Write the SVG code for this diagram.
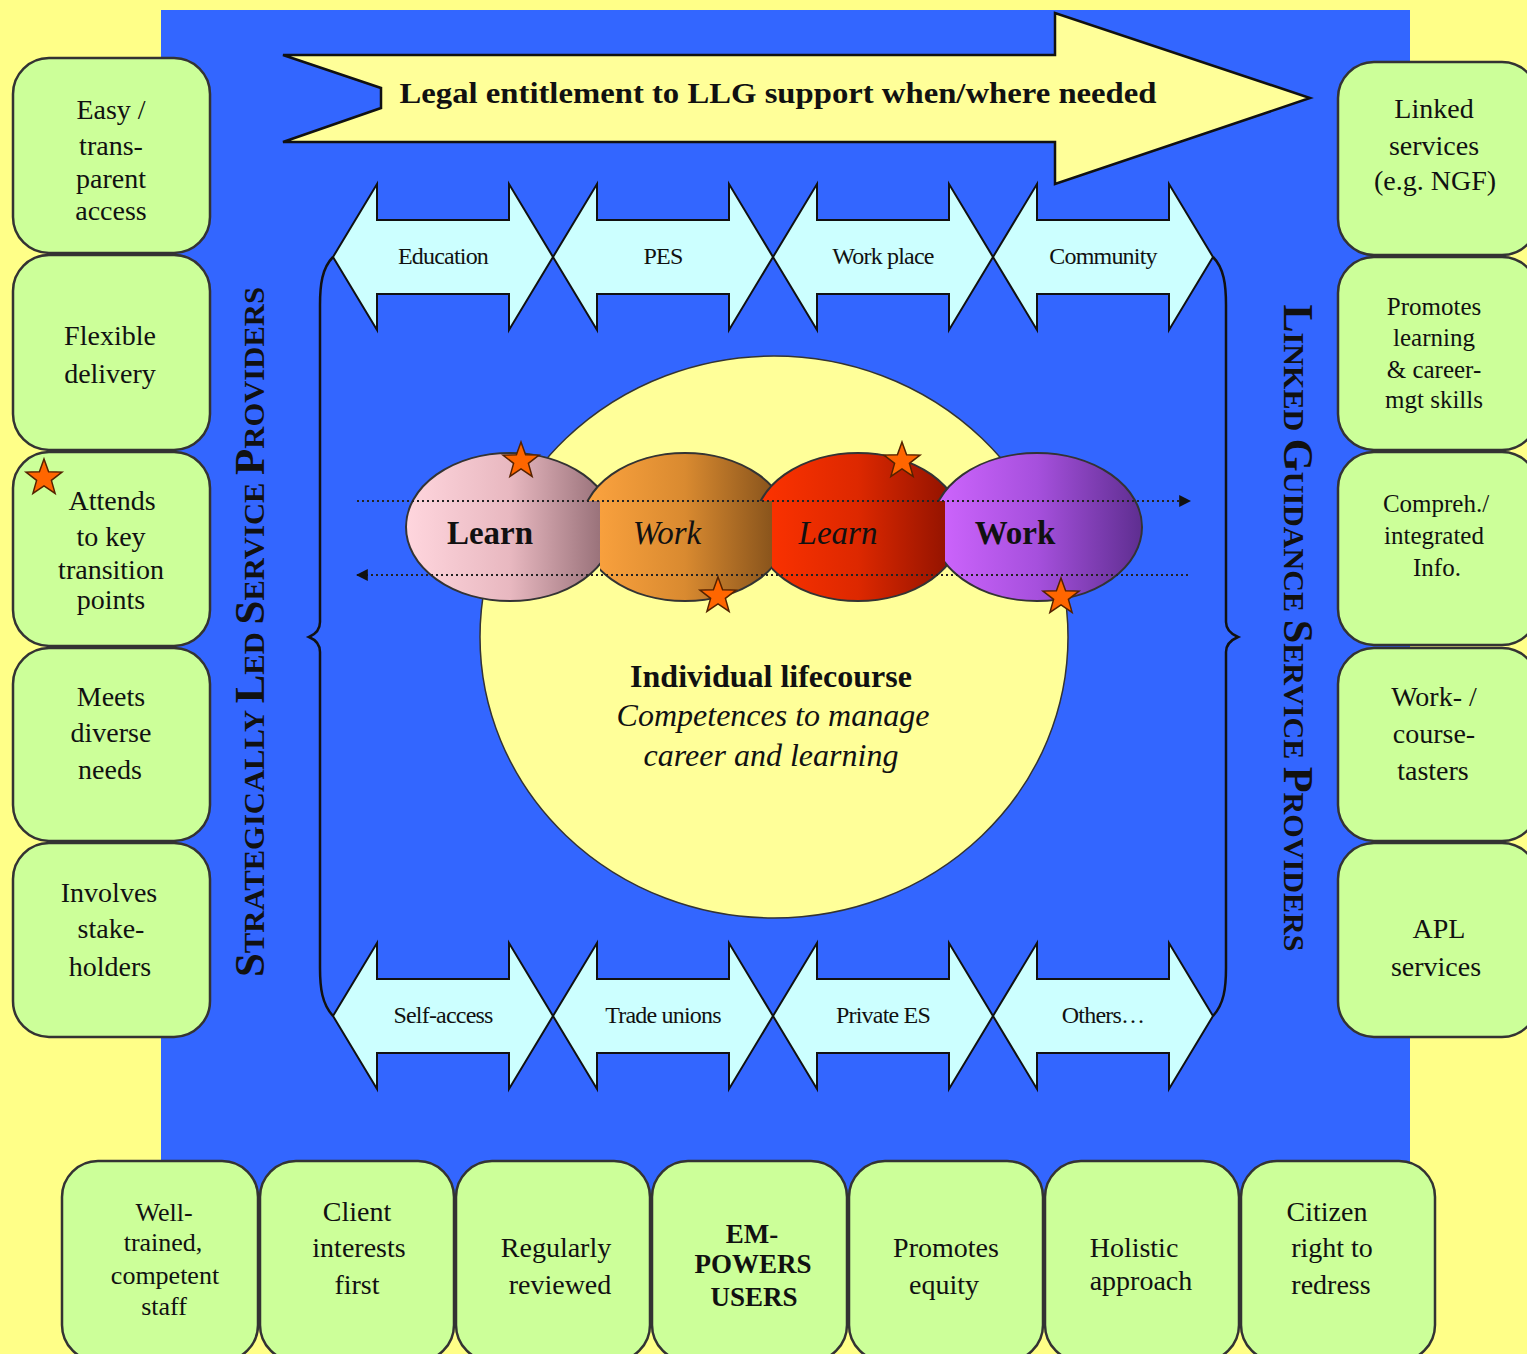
<svg xmlns="http://www.w3.org/2000/svg" xmlns:xlink="http://www.w3.org/1999/xlink" width="1527" height="1354" viewBox="0 0 1527 1354">
<style>
text{font-family:"Liberation Serif","DejaVu Serif","Times New Roman",serif}
.box{fill:#CCFF99;stroke:#333;stroke-width:2.5}
.bt{font-size:28px;fill:#111;text-anchor:middle}
.dbl{fill:#CCFFFF;stroke:#111;stroke-width:2}
.al{font-size:24px;fill:#111;text-anchor:middle;letter-spacing:-0.8px}
.brace{fill:none;stroke:#111;stroke-width:2.5}
.dot{fill:none;stroke:#222;stroke-width:1.8;stroke-dasharray:2 3}
.star{fill:#FF6600;stroke:#552200;stroke-width:1.5}
.ell{stroke:#333;stroke-width:2}
.et{font-size:33px;fill:#111;text-anchor:middle}
.vt{font-weight:bold;fill:#111;text-anchor:middle}
.ct{font-size:32px;fill:#111;text-anchor:middle}
</style>
<defs>
<polygon id="star" points="0,-19 4.6,-6.3 18,-5.9 7.4,2.4 11.1,15.4 0,7.8 -11.1,15.4 -7.4,2.4 -18,-5.9 -4.6,-6.3"/>
<marker id="ah" viewBox="0 0 10 10" refX="9" refY="5" markerWidth="12" markerHeight="12" markerUnits="userSpaceOnUse" orient="auto">
<path d="M0,0 L10,5 L0,10 Z" fill="#111"/>
</marker>
<linearGradient id="gPink" x1="0" y1="0" x2="1" y2="0"><stop offset="0" stop-color="#FFD6DE"/><stop offset="0.5" stop-color="#E8B8C0"/><stop offset="1" stop-color="#8E6870"/></linearGradient>
<linearGradient id="gOrange" x1="0" y1="0" x2="1" y2="0"><stop offset="0" stop-color="#FFA540"/><stop offset="0.5" stop-color="#D98A30"/><stop offset="1" stop-color="#7A4A18"/></linearGradient>
<linearGradient id="gRed" x1="0" y1="0" x2="1" y2="0"><stop offset="0" stop-color="#FF3300"/><stop offset="0.5" stop-color="#DD2800"/><stop offset="1" stop-color="#881000"/></linearGradient>
<linearGradient id="gPurple" x1="0" y1="0" x2="1" y2="0"><stop offset="0" stop-color="#D066FF"/><stop offset="0.5" stop-color="#A650DD"/><stop offset="1" stop-color="#5E2E90"/></linearGradient>
<clipPath id="cO"><path d="M0,0 H1527 V1354 H600 V501 H0 Z"/></clipPath>
<clipPath id="cR"><path d="M0,0 H1527 V1354 H772 V501 H0 Z"/></clipPath>
<clipPath id="cP"><path d="M0,0 H1527 V1354 H945 V501 H0 Z"/></clipPath>
</defs>

<rect x="0" y="0" width="1527" height="1354" fill="#FFFF88"/>
<rect id="frame" x="161" y="10" width="1249" height="1240" fill="#3366FF"/>

<g id="legal-arrow">
<polygon points="283,55 1055,55 1055,13 1310,98 1055,184 1055,142 283,142 381,108 381,88" fill="#FFFF99" stroke="#111" stroke-width="2.5"/>
<text x="778" y="103" font-weight="bold" font-size="30" fill="#111" text-anchor="middle" textLength="757" lengthAdjust="spacingAndGlyphs">Legal entitlement to LLG support when/where needed</text>
</g>

<g id="braces">
<path class="brace" d="M333,257 C322,268 320,285 320,305 L320,622 C320,630 316,634 309,637 C316,640 320,644 320,652 L320,968 C320,988 322,1004 333,1016"/>
<path class="brace" d="M1213,257 C1224,268 1226,285 1226,305 L1226,622 C1226,630 1231,634 1238,637 C1231,640 1226,644 1226,652 L1226,968 C1226,988 1224,1004 1213,1016"/>
</g>

<g id="top-arrows">
<g id="education"><polygon class="dbl" points="333,257 377,184 377,220 509,220 509,184 553,257 509,330 509,294 377,294 377,330"/><text class="al" x="443" y="264">Education</text></g>
<g id="pes"><polygon class="dbl" points="553,257 597,184 597,220 729,220 729,184 773,257 729,330 729,294 597,294 597,330"/><text class="al" x="663" y="264">PES</text></g>
<g id="workplace"><polygon class="dbl" points="773,257 817,184 817,220 949,220 949,184 993,257 949,330 949,294 817,294 817,330"/><text class="al" x="883" y="264">Work place</text></g>
<g id="community"><polygon class="dbl" points="993,257 1037,184 1037,220 1169,220 1169,184 1213,257 1169,330 1169,294 1037,294 1037,330"/><text class="al" x="1103" y="264">Community</text></g>
</g>

<g id="bottom-arrows">
<g id="selfaccess"><polygon class="dbl" points="333,1016 377,943 377,979 509,979 509,943 553,1016 509,1089 509,1053 377,1053 377,1089"/><text class="al" x="443" y="1023">Self-access</text></g>
<g id="tradeunions"><polygon class="dbl" points="553,1016 597,943 597,979 729,979 729,943 773,1016 729,1089 729,1053 597,1053 597,1089"/><text class="al" x="663" y="1023">Trade unions</text></g>
<g id="privatees"><polygon class="dbl" points="773,1016 817,943 817,979 949,979 949,943 993,1016 949,1089 949,1053 817,1053 817,1089"/><text class="al" x="883" y="1023">Private ES</text></g>
<g id="others"><polygon class="dbl" points="993,1016 1037,943 1037,979 1169,979 1169,943 1213,1016 1169,1089 1169,1053 1037,1053 1037,1089"/><text class="al" x="1103" y="1023">Others…</text></g>
</g>

<g id="lifecourse">
<ellipse cx="774" cy="637" rx="294" ry="281" fill="#FFFF99" stroke="#333" stroke-width="1.5"/>
<text class="ct" x="771" y="687" font-weight="bold">Individual lifecourse</text>
<text class="ct" x="773" y="726" font-style="italic">Competences to manage</text>
<text class="ct" x="771" y="766" font-style="italic">career and learning</text>
</g>

<g id="learn1"><ellipse class="ell" cx="510" cy="527" rx="104" ry="74" fill="url(#gPink)"/></g>
<g id="work1" clip-path="url(#cO)"><ellipse class="ell" cx="685" cy="527" rx="104" ry="74" fill="url(#gOrange)"/></g>
<g id="learn2" clip-path="url(#cR)"><ellipse class="ell" cx="858" cy="527" rx="104" ry="74" fill="url(#gRed)"/></g>
<g id="work2" clip-path="url(#cP)"><ellipse class="ell" cx="1037" cy="527" rx="105" ry="74" fill="url(#gPurple)"/></g>

<g id="connectors">
<line class="dot" x1="357" y1="501" x2="1190" y2="501" marker-end="url(#ah)"/>
<line class="dot" x1="1188" y1="575" x2="357" y2="575" marker-end="url(#ah)"/>
</g>

<g id="ellipse-labels">
<text class="et" x="490" y="544" font-weight="bold">Learn</text>
<text class="et" x="667" y="544" font-style="italic">Work</text>
<text class="et" x="838" y="544" font-style="italic">Learn</text>
<text class="et" x="1015" y="544" font-weight="bold">Work</text>
</g>

<g id="stars">
<use href="#star" class="star" x="521" y="461"/>
<use href="#star" class="star" x="718" y="596"/>
<use href="#star" class="star" x="902" y="461"/>
<use href="#star" class="star" x="1061" y="597"/>
</g>

<g id="left-label">
<text class="vt" x="264" y="632" transform="rotate(-90 264 632)" textLength="690" lengthAdjust="spacingAndGlyphs"><tspan font-size="42">S</tspan><tspan font-size="30">TRATEGICALLY </tspan><tspan font-size="42">L</tspan><tspan font-size="30">ED </tspan><tspan font-size="42">S</tspan><tspan font-size="30">ERVICE </tspan><tspan font-size="42">P</tspan><tspan font-size="30">ROVIDERS</tspan></text>
</g>
<g id="right-label">
<text class="vt" x="1284" y="628" transform="rotate(90 1284 628)" textLength="647" lengthAdjust="spacingAndGlyphs"><tspan font-size="42">L</tspan><tspan font-size="30">INKED </tspan><tspan font-size="42">G</tspan><tspan font-size="30">UIDANCE </tspan><tspan font-size="42">S</tspan><tspan font-size="30">ERVICE </tspan><tspan font-size="42">P</tspan><tspan font-size="30">ROVIDERS</tspan></text>
</g>

<g id="left-boxes">
<g id="easy"><rect class="box" x="13" y="58" width="197" height="195" rx="36"/><text class="bt"><tspan x="111" y="119">Easy /</tspan><tspan x="111" y="155">trans-</tspan><tspan x="111" y="188">parent</tspan><tspan x="111" y="220">access</tspan></text></g>
<g id="flexible"><rect class="box" x="13" y="255" width="197" height="195" rx="36"/><text class="bt"><tspan x="110" y="345">Flexible</tspan><tspan x="110" y="383">delivery</tspan></text></g>
<g id="attends"><rect class="box" x="13" y="452" width="197" height="194" rx="36"/><use href="#star" class="star" x="44" y="478"/><text class="bt"><tspan x="112" y="510">Attends</tspan><tspan x="111" y="546">to key</tspan><tspan x="111" y="579">transition</tspan><tspan x="111" y="609">points</tspan></text></g>
<g id="meets"><rect class="box" x="13" y="648" width="197" height="193" rx="36"/><text class="bt"><tspan x="111" y="706">Meets</tspan><tspan x="111" y="742">diverse</tspan><tspan x="110" y="779">needs</tspan></text></g>
<g id="involves"><rect class="box" x="13" y="843" width="197" height="194" rx="36"/><text class="bt"><tspan x="109" y="902">Involves</tspan><tspan x="111" y="938">stake-</tspan><tspan x="110" y="976">holders</tspan></text></g>
</g>

<g id="right-boxes">
<g id="linked"><rect class="box" x="1338" y="62" width="200" height="193" rx="36"/><text class="bt"><tspan x="1434" y="118">Linked</tspan><tspan x="1434" y="155">services</tspan><tspan x="1435" y="190">(e.g. NGF)</tspan></text></g>
<g id="promotes-learning"><rect class="box" x="1338" y="257" width="200" height="193" rx="36"/><text class="bt" style="font-size:25px"><tspan x="1434" y="315">Promotes</tspan><tspan x="1434" y="346">learning</tspan><tspan x="1434" y="378">&amp; career-</tspan><tspan x="1434" y="408">mgt skills</tspan></text></g>
<g id="compreh"><rect class="box" x="1338" y="452" width="200" height="193" rx="36"/><text class="bt" style="font-size:25px"><tspan x="1436" y="512">Compreh./</tspan><tspan x="1434" y="544">integrated</tspan><tspan x="1437" y="576">Info.</tspan></text></g>
<g id="tasters"><rect class="box" x="1338" y="648" width="200" height="193" rx="36"/><text class="bt"><tspan x="1434" y="706">Work- /</tspan><tspan x="1434" y="743">course-</tspan><tspan x="1433" y="780">tasters</tspan></text></g>
<g id="apl"><rect class="box" x="1338" y="843" width="200" height="194" rx="36"/><text class="bt"><tspan x="1439" y="938">APL</tspan><tspan x="1436" y="976">services</tspan></text></g>
</g>

<g id="bottom-boxes">
<g id="staff"><rect class="box" x="62" y="1161" width="196" height="200" rx="36"/><text class="bt" style="font-size:26px"><tspan x="164" y="1221">Well-</tspan><tspan x="163" y="1251">trained,</tspan><tspan x="165" y="1284">competent</tspan><tspan x="164" y="1315">staff</tspan></text></g>
<g id="client"><rect class="box" x="260" y="1161" width="194" height="200" rx="36"/><text class="bt"><tspan x="357" y="1221">Client</tspan><tspan x="359" y="1257">interests</tspan><tspan x="357" y="1294">first</tspan></text></g>
<g id="reviewed"><rect class="box" x="456" y="1161" width="194" height="200" rx="36"/><text class="bt"><tspan x="556" y="1257">Regularly</tspan><tspan x="560" y="1294">reviewed</tspan></text></g>
<g id="empowers"><rect class="box" x="652" y="1161" width="195" height="200" rx="36"/><text class="bt" style="font-size:27px;font-weight:bold"><tspan x="752" y="1243">EM-</tspan><tspan x="753" y="1273">POWERS</tspan><tspan x="754" y="1306">USERS</tspan></text></g>
<g id="equity"><rect class="box" x="849" y="1161" width="194" height="200" rx="36"/><text class="bt"><tspan x="946" y="1257">Promotes</tspan><tspan x="944" y="1294">equity</tspan></text></g>
<g id="holistic"><rect class="box" x="1045" y="1161" width="194" height="200" rx="36"/><text class="bt"><tspan x="1134" y="1257">Holistic</tspan><tspan x="1141" y="1290">approach</tspan></text></g>
<g id="redress"><rect class="box" x="1241" y="1161" width="194" height="200" rx="36"/><text class="bt"><tspan x="1327" y="1221">Citizen</tspan><tspan x="1332" y="1257">right to</tspan><tspan x="1331" y="1294">redress</tspan></text></g>
</g>
</svg>
